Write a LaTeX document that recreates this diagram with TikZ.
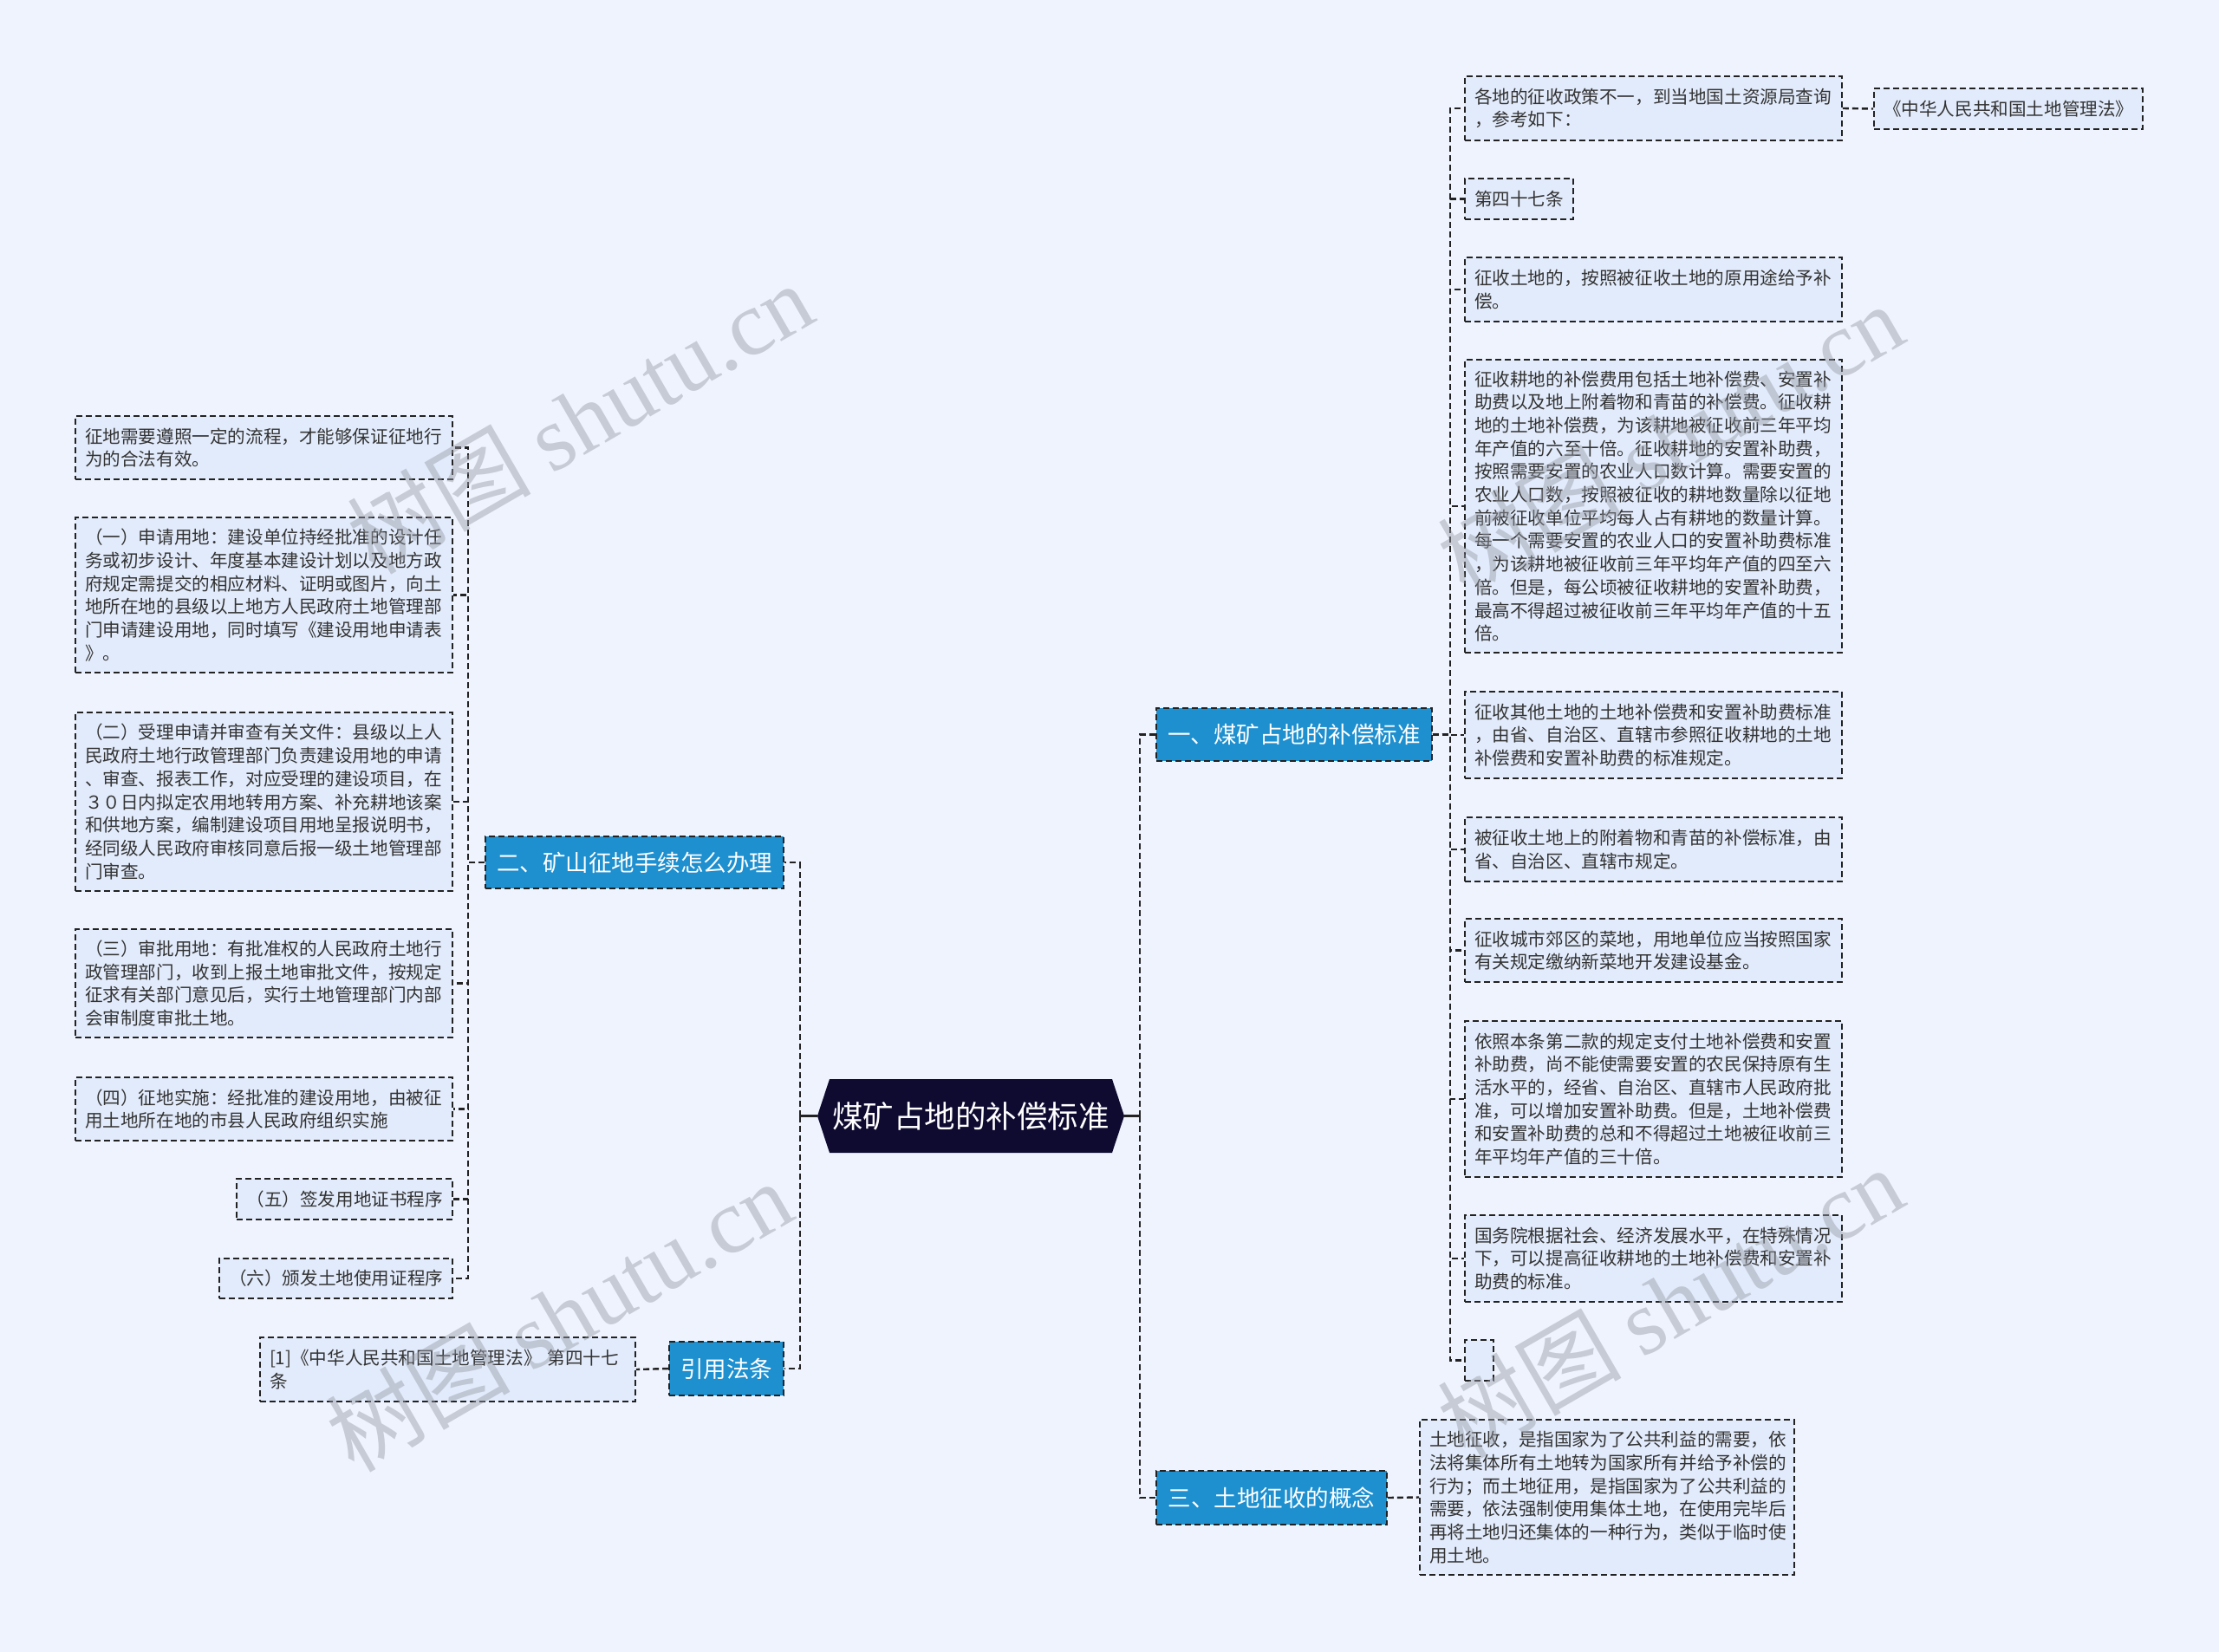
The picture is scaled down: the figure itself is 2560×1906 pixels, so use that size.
\documentclass[tikz,border=0pt]{standalone}
\usepackage{fontspec}
\setmainfont{Noto Sans CJK SC}
\newfontfamily\wmserif{Liberation Serif}
\definecolor{bgc}{RGB}{238,243,253}
\definecolor{leaffill}{RGB}{226,235,251}
\definecolor{linec}{RGB}{34,34,34}
\definecolor{textc}{RGB}{51,51,51}
\definecolor{branchblue}{RGB}{30,143,207}
\definecolor{rootc}{RGB}{14,10,48}
\definecolor{wmc}{RGB}{150,155,165}
\newcommand\leaffont{\fontsize{20.6pt}{26.7pt}\selectfont}
\newcommand\branchfont{\fontsize{26.5pt}{32pt}\selectfont}
\newcommand\rootfont{\fontsize{35.5pt}{40pt}\selectfont}
\hfuzz=100pt
\tikzset{
  leaf/.style={draw=linec, line width=1.7pt, dash pattern=on 7pt off 4pt, fill=leaffill,
    inner xsep=11pt, inner ysep=0pt, align=left, font=\leaffont, text=textc},
  branch/.style={draw=linec, line width=1.7pt, dash pattern=on 7pt off 4pt, fill=branchblue,
    inner sep=0pt, align=center, font=\branchfont, text=white},
  conn/.style={draw=linec, line width=2.4pt, dash pattern=on 7pt off 4pt},
  rootconn/.style={draw=linec, line width=2.4pt},
  wm/.style={text=wmc, opacity=0.45, rotate=30, font=\fontsize{106pt}{110pt}\selectfont}
}
\begin{document}
\begin{tikzpicture}[x=1pt,y=-1pt]
\useasboundingbox (0,0) rectangle (2560,1906);
\fill[bgc] (0,0) rectangle (2560,1906);

% root hexagon
\fill[rootc] (943,1287.5) -- (957,1245) -- (1283,1245) -- (1297,1287.5) -- (1283,1330) -- (957,1330) -- cycle;
\node[inner sep=0pt, minimum width=354pt, minimum height=85pt, font=\rootfont, text=white] (root) at (1120,1287.5) {煤矿占地的补偿标准};

% branches
\node[branch, minimum width=318pt, minimum height=61pt] (b1) at (1493,847.5) {一、煤矿占地的补偿标准};
\node[branch, minimum width=266pt, minimum height=62pt] (b3) at (1467,1728) {三、土地征收的概念};
\node[branch, minimum width=344pt, minimum height=60pt] (b2) at (732,995) {二、矿山征地手续怎么办理};
\node[branch, minimum width=132pt, minimum height=62pt] (bref) at (838,1579) {引用法条};

% right leaves
\node[leaf, minimum width=435pt, text width=413pt, minimum height=74pt] (c1) at (1907.5,125) {各地的征收政策不一，到当地国土资源局查询\\，参考如下：};
\node[leaf, minimum width=310pt, text width=288pt, minimum height=47pt, align=center] (law) at (2317,125.5) {《中华人民共和国土地管理法》};
\node[leaf, minimum width=125pt, text width=103pt, minimum height=47pt] (c2) at (1752.5,229.5) {第四十七条};
\node[leaf, minimum width=435pt, text width=413pt, minimum height=74pt] (c3) at (1907.5,334) {征收土地的，按照被征收土地的原用途给予补\\偿。};
\node[leaf, minimum width=435pt, text width=413pt, minimum height=338pt] (c4) at (1907.5,584) {征收耕地的补偿费用包括土地补偿费、安置补\\助费以及地上附着物和青苗的补偿费。征收耕\\地的土地补偿费，为该耕地被征收前三年平均\\年产值的六至十倍。征收耕地的安置补助费，\\按照需要安置的农业人口数计算。需要安置的\\农业人口数，按照被征收的耕地数量除以征地\\前被征收单位平均每人占有耕地的数量计算。\\每一个需要安置的农业人口的安置补助费标准\\，为该耕地被征收前三年平均年产值的四至六\\倍。但是，每公顷被征收耕地的安置补助费，\\最高不得超过被征收前三年平均年产值的十五\\倍。};
\node[leaf, minimum width=435pt, text width=413pt, minimum height=100pt] (c5) at (1907.5,848) {征收其他土地的土地补偿费和安置补助费标准\\，由省、自治区、直辖市参照征收耕地的土地\\补偿费和安置补助费的标准规定。};
\node[leaf, minimum width=435pt, text width=413pt, minimum height=74pt] (c6) at (1907.5,980) {被征收土地上的附着物和青苗的补偿标准，由\\省、自治区、直辖市规定。};
\node[leaf, minimum width=435pt, text width=413pt, minimum height=73pt] (c7) at (1907.5,1096.5) {征收城市郊区的菜地，用地单位应当按照国家\\有关规定缴纳新菜地开发建设基金。};
\node[leaf, minimum width=435pt, text width=413pt, minimum height=180pt] (c8) at (1907.5,1268) {依照本条第二款的规定支付土地补偿费和安置\\补助费，尚不能使需要安置的农民保持原有生\\活水平的，经省、自治区、直辖市人民政府批\\准，可以增加安置补助费。但是，土地补偿费\\和安置补助费的总和不得超过土地被征收前三\\年平均年产值的三十倍。};
\node[leaf, minimum width=435pt, text width=413pt, minimum height=100pt] (c9) at (1907.5,1452) {国务院根据社会、经济发展水平，在特殊情况\\下，可以提高征收耕地的土地补偿费和安置补\\助费的标准。};
\node[leaf, minimum width=33pt, inner xsep=0pt, minimum height=47pt] (c10) at (1706.5,1569.5) {};
\node[leaf, minimum width=432pt, text width=410pt, minimum height=179pt] (k3) at (1854,1727.5) {土地征收，是指国家为了公共利益的需要，依\\法将集体所有土地转为国家所有并给予补偿的\\行为；而土地征用，是指国家为了公共利益的\\需要，依法强制使用集体土地，在使用完毕后\\再将土地归还集体的一种行为，类似于临时使\\用土地。};

% left leaves
\node[leaf, minimum width=435pt, text width=413pt, minimum height=73pt] (L1) at (304.5,516.5) {征地需要遵照一定的流程，才能够保证征地行\\为的合法有效。};
\node[leaf, minimum width=435pt, text width=413pt, minimum height=179pt] (L2) at (304.5,686.5) {（一）申请用地：建设单位持经批准的设计任\\务或初步设计、年度基本建设计划以及地方政\\府规定需提交的相应材料、证明或图片，向土\\地所在地的县级以上地方人民政府土地管理部\\门申请建设用地，同时填写《建设用地申请表\\》。};
\node[leaf, minimum width=435pt, text width=413pt, minimum height=206pt] (L3) at (304.5,925) {（二）受理申请并审查有关文件：县级以上人\\民政府土地行政管理部门负责建设用地的申请\\、审查、报表工作，对应受理的建设项目，在\\３０日内拟定农用地转用方案、补充耕地该案\\和供地方案，编制建设项目用地呈报说明书，\\经同级人民政府审核同意后报一级土地管理部\\门审查。};
\node[leaf, minimum width=435pt, text width=413pt, minimum height=125pt] (L4) at (304.5,1134.5) {（三）审批用地：有批准权的人民政府土地行\\政管理部门，收到上报土地审批文件，按规定\\征求有关部门意见后，实行土地管理部门内部\\会审制度审批土地。};
\node[leaf, minimum width=435pt, text width=413pt, minimum height=73pt] (L5) at (304.5,1279.5) {（四）征地实施：经批准的建设用地，由被征\\用土地所在地的市县人民政府组织实施};
\node[leaf, minimum width=249pt, text width=227pt, minimum height=47pt, align=right] (L6) at (397.5,1383.5) {（五）签发用地证书程序};
\node[leaf, minimum width=269pt, text width=247pt, minimum height=46pt, align=right] (L7) at (387.5,1475) {（六）颁发土地使用证程序};
\node[leaf, minimum width=433pt, text width=411pt, minimum height=74pt] (ref) at (516.5,1580) {[1]《中华人民共和国土地管理法》 第四十七\\条};

% connectors from root
\draw[rootconn] (root.east) -- ++(18,0);
\draw[rootconn] (root.west) -- ++(-20,0);
\draw[conn] (root.east) ++(18,0) |- (b1.west);
\draw[conn] (root.east) ++(18,0) |- (b3.west);
\draw[conn] (root.west) ++(-20,0) |- (b2.east);
\draw[conn] (root.west) ++(-20,0) |- (bref.east);

% branch 1 children
\foreach \c in {c1,c2,c3,c4,c5,c6,c7,c8,c9,c10}
  \draw[conn] (b1.east) -- ++(20,0) |- (\c.west);
\draw[conn] (c1.east) -- (law.west);

% branch 3
\draw[conn] (b3.east) -- (k3.west);

% branch 2 children
\foreach \c in {L1,L2,L3,L4,L5,L6,L7}
  \draw[conn] (b2.west) -- ++(-19,0) |- (\c.east);

% reference
\draw[conn] (bref.west) -- (ref.east);

% watermarks
\node[wm] (wm1) at (669,482) {树图 {\wmserif shutu.cn}};
\node[wm] (wm2) at (1927,506) {树图 {\wmserif shutu.cn}};
\node[wm] (wm3) at (645,1518) {树图 {\wmserif shutu.cn}};
\node[wm] (wm4) at (1927,1502) {树图 {\wmserif shutu.cn}};
\end{tikzpicture}
\end{document}
